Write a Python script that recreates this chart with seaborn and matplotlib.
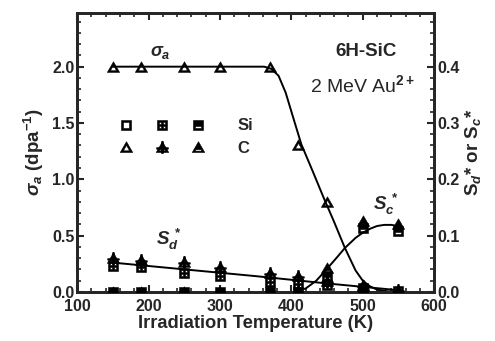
import numpy as np
import pandas as pd
import matplotlib
matplotlib.use("Agg")
import matplotlib.pyplot as plt
import seaborn as sns
from matplotlib.path import Path
from matplotlib.lines import Line2D
from matplotlib.legend_handler import HandlerTuple
from matplotlib.ticker import MultipleLocator

# ---------------- data ----------------
T = [150, 190, 250, 300, 370, 410, 450, 500, 550]
sigma_C = [2.0, 2.0, 2.0, 2.0, 2.0, 1.30, 0.80, 0.06, 0.0]          # dpa^-1 (left axis)
Sd_Si = [0.046, 0.044, 0.034, 0.028, 0.018, 0.014, 0.012, 0.007, 0.002]
Sd_C = [0.060, 0.057, 0.053, 0.045, 0.034, 0.028, 0.020, 0.010, 0.003]
Sc_Si = [0.0, 0.0, 0.0, 0.0, 0.0, 0.0, 0.028, 0.114, 0.108]
Sc_C = [0.0, 0.0, 0.0, 0.0, 0.0, 0.004, 0.043, 0.126, 0.121]

# fitted curves
sigma_fit_T = [150, 362, 372, 382, 392, 402, 414, 430, 445, 460, 475, 490, 500, 510, 520, 535, 550]
sigma_fit = [2.0, 2.0, 1.98, 1.92, 1.77, 1.56, 1.31, 1.07, 0.84, 0.62, 0.39, 0.19, 0.10, 0.05, 0.02, 0.005, 0.0]
Sd_fit_T = [150, 250, 350, 450, 550]
Sd_fit = [0.052, 0.040, 0.028, 0.015, 0.003]
Sc_fit_T = [402, 420, 435, 450, 465, 475, 490, 500, 510, 520, 530, 540, 550]
Sc_fit = [0.0, 0.006, 0.020, 0.041, 0.063, 0.078, 0.096, 0.105, 0.112, 0.117, 0.119, 0.119, 0.117]

legend_labels = ["Si", "C"]

# ---------------- style ----------------
sns.set_theme(style="ticks")
plt.rcParams["font.family"] = ["Liberation Sans", "DejaVu Sans"]
plt.rcParams["font.weight"] = "bold"
plt.rcParams["mathtext.fontset"] = "custom"
plt.rcParams["mathtext.rm"] = "Liberation Sans:bold"
plt.rcParams["mathtext.bf"] = "Liberation Sans:bold"
plt.rcParams["mathtext.it"] = "Liberation Sans:italic:bold"
plt.rcParams["mathtext.default"] = "it"


# ---------------- custom marker shapes ----------------
def poly(pts, ccw=True):
    pts = list(pts)
    if not ccw:
        pts = pts[::-1]
    v = pts + [pts[0]]
    c = [Path.MOVETO] + [Path.LINETO] * (len(pts) - 1) + [Path.CLOSEPOLY]
    return v, c


def rect(x0, y0, x1, y1, ccw=True):
    return poly([(x0, y0), (x1, y0), (x1, y1), (x0, y1)], ccw)


def compound(parts):
    V, C = [], []
    for v, c in parts:
        V += v
        C += c
    return Path(V, C)


sq_open = compound([rect(-1, -1, 1, 1), rect(-0.6, -0.6, 0.6, 0.6, False)])
sq_cross = compound([rect(-1, -1, 1, 1),
                     rect(-0.66, -0.66, -0.16, -0.16, False), rect(0.16, -0.66, 0.66, -0.16, False),
                     rect(-0.66, 0.16, -0.16, 0.66, False), rect(0.16, 0.16, 0.66, 0.66, False)])
sq_half = compound([rect(-1, -1, 1, 1), rect(-0.6, -0.6, 0.6, -0.25, False)])

tri = [(-1, -0.8), (1, -0.8), (0, 0.93)]
tri_in = [(-0.5, -0.53), (0.5, -0.53), (0, 0.34)]
tri_open = compound([poly(tri), poly(tri_in, False)])
tri_cross = compound([poly(tri), poly(tri_in, False),
                      rect(-0.12, -1.0, 0.12, 1.0), rect(-0.95, -0.27, 0.95, -0.03)])
tri_half = compound([poly(tri), rect(-0.45, -0.58, 0.45, -0.36, False)])

# ---------------- figure ----------------
fig = plt.figure(figsize=(4.95, 3.41), dpi=100)
ax = fig.add_axes([0.156, 0.144, 0.721, 0.819])
ax2 = ax.twinx()

ax.set_xlim(100, 600)
ax.set_ylim(0, 2.48)
ax2.set_ylim(0, 2.48 / 5)

lw = 1.4
sns.lineplot(x=sigma_fit_T, y=sigma_fit, ax=ax, color="black", lw=lw, sort=False)
sns.lineplot(x=Sd_fit_T, y=Sd_fit, ax=ax2, color="black", lw=lw, sort=False)
sns.lineplot(x=Sc_fit_T, y=Sc_fit, ax=ax2, color="black", lw=lw, sort=False)

sq_s, tri_s = 46, 78
kw = dict(color="black", edgecolor="black", linewidth=0.4, clip_on=True, zorder=3)
sns.scatterplot(x=T, y=sigma_C, ax=ax, marker=tri_open, s=tri_s, **kw)
sns.scatterplot(x=T, y=Sd_Si, ax=ax2, marker=sq_cross, s=sq_s, **kw)
sns.scatterplot(x=T, y=Sd_C, ax=ax2, marker=tri_cross, s=tri_s, **kw)
sns.scatterplot(x=T, y=Sc_Si, ax=ax2, marker=sq_half, s=sq_s, **kw)
sns.scatterplot(x=T, y=Sc_C, ax=ax2, marker=tri_half, s=tri_s, **kw)

# legend (marker key)
def h(m, ms):
    return Line2D([], [], ls="none", marker=m, markersize=ms, color="black",
                  markerfacecolor="black", markeredgecolor="black", markeredgewidth=0.4)

handles = [(h(sq_open, 6.5), h(sq_cross, 6.5), h(sq_half, 6.5)),
           (h(tri_open, 9), h(tri_cross, 9), h(tri_half, 9))]
ax.legend(handles, legend_labels, handler_map={tuple: HandlerTuple(ndivide=None, pad=0.9)},
          handlelength=5.6, handletextpad=1.7, labelspacing=0.45, frameon=False,
          loc="upper left", bbox_to_anchor=(0.065, 0.675),
          prop={"weight": "bold", "size": 12})

# annotations
ax.text(217, 2.13, r"$\sigma_a$", fontsize=13, ha="center", va="center")
ax2.text(228, 0.093, r"$S_d^{\,*}$", fontsize=13.5, ha="center", va="center")
ax2.text(532, 0.155, r"$S_c^{\,*}$", fontsize=13.5, ha="center", va="center")
ax.text(0.81, 0.86, "6H-SiC", transform=ax.transAxes, ha="center", va="center",
        fontsize=13.5, fontweight="bold")
ax.text(0.80, 0.74, r"2 MeV Au$^{\mathrm{2+}}$", transform=ax.transAxes, ha="center", va="center",
        fontsize=14, fontweight="normal")

# axes labels
ax.set_xlabel("Irradiation Temperature (K)", fontsize=13.2, fontweight="bold", labelpad=1)
ax.set_ylabel(r"$\sigma_a$ (dpa$^{\mathrm{-1}}$)", fontsize=13.5, fontweight="bold", labelpad=4)
ax2.set_ylabel(r"S$_d$* or S$_c$*", fontsize=13.5, fontweight="bold", labelpad=3)

# ticks
ax.xaxis.set_major_locator(MultipleLocator(100))
ax.xaxis.set_minor_locator(MultipleLocator(20))
ax.yaxis.set_minor_locator(MultipleLocator(0.1))
ax2.yaxis.set_minor_locator(MultipleLocator(0.02))
ax.set_yticks([0, 0.5, 1.0, 1.5, 2.0])
ax2.set_yticks([0, 0.1, 0.2, 0.3, 0.4])
ax.yaxis.set_major_formatter(matplotlib.ticker.FormatStrFormatter("%.1f"))
ax2.yaxis.set_major_formatter(matplotlib.ticker.FormatStrFormatter("%.1f"))

for a in (ax, ax2):
    a.tick_params(which="major", direction="in", length=5, width=1.5, labelsize=11.5, pad=2)
    a.tick_params(which="minor", direction="in", length=3, width=1.2)
    for sp in a.spines.values():
        sp.set_linewidth(2)
        sp.set_visible(True)
ax.tick_params(which="both", top=True, left=True, right=False, bottom=True)
ax.tick_params(axis="x", which="major", pad=5)
ax2.tick_params(which="both", right=True, left=False, top=False)
for lab in ax.get_xticklabels() + ax.get_yticklabels() + ax2.get_yticklabels():
    lab.set_fontweight("bold")

fig.savefig("out.png", dpi=100)
